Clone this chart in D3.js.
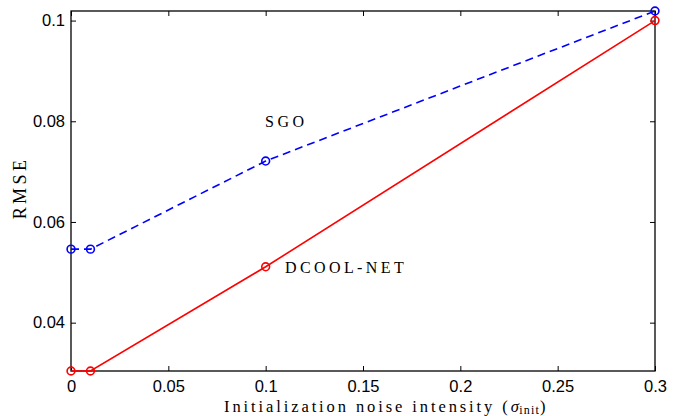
<!DOCTYPE html>
<html><head><meta charset="utf-8">
<script src="https://cdn.jsdelivr.net/npm/d3@7/dist/d3.min.js"></script>
<style>body{margin:0;background:#fff}svg{display:block}</style>
</head><body>
<script>
const xValues = [0, 0.01, 0.1, 0.3];
const dcoolNet = [0.0304, 0.0304, 0.0511, 0.1];
const sgo = [0.0546, 0.0546, 0.0721, 0.1019];
const xTicks = [0, 0.05, 0.1, 0.15, 0.2, 0.25, 0.3];
const yTicks = [0.04, 0.06, 0.08, 0.1];

const W = 685, H = 416;
const L = 71, R = 655, T = 11, B = 371;
const svg = d3.select("body").append("svg").attr("width", W).attr("height", H);
const x = d3.scaleLinear().domain([0, 0.3]).range([L, R]);
const y = d3.scaleLinear().domain([0.0304, 0.1019]).range([B, T]);

const tickFont = "'Liberation Sans', Arial, sans-serif";
const serif = "'Liberation Serif', 'DejaVu Serif', serif";

const fmt = d => d3.format("")(+d.toFixed(2));
const gxB = svg.append("g").attr("transform", `translate(0,${B})`)
  .call(d3.axisBottom(x).tickValues(xTicks).tickSize(-5).tickPadding(9).tickFormat(fmt));
const gxT = svg.append("g").attr("transform", `translate(0,${T})`)
  .call(d3.axisTop(x).tickValues(xTicks).tickSize(-5).tickFormat(""));
const gyL = svg.append("g").attr("transform", `translate(${L},0)`)
  .call(d3.axisLeft(y).tickValues(yTicks).tickSize(-5).tickPadding(6).tickFormat(fmt));
const gyR = svg.append("g").attr("transform", `translate(${R},0)`)
  .call(d3.axisRight(y).tickValues(yTicks).tickSize(-5).tickFormat(""));
[gxB, gxT, gyL, gyR].forEach(g => {
  g.select(".domain").remove();
  g.selectAll(".tick line").attr("stroke", "#000").attr("stroke-width", 1);
  g.selectAll("text").attr("font-family", tickFont).attr("font-size", 16.5).attr("fill", "#000");
});
svg.append("rect").attr("x", L).attr("y", T).attr("width", R - L).attr("height", B - T)
  .attr("fill", "none").attr("stroke", "#000").attr("stroke-width", 1.3);

const line = d3.line().x(d => x(d[0])).y(d => y(d[1]));
const series = [
  {vals: dcoolNet, color: "#ff0000", dash: null},
  {vals: sgo, color: "#0000ff", dash: "8,5"}
];
series.forEach(s => {
  const pts = xValues.map((v, i) => [v, s.vals[i]]);
  svg.append("path").datum(pts).attr("d", line).attr("fill", "none")
    .attr("stroke", s.color).attr("stroke-width", 1.6)
    .attr("stroke-dasharray", s.dash);
  svg.selectAll(null).data(pts).enter().append("circle")
    .attr("cx", d => x(d[0])).attr("cy", d => y(d[1])).attr("r", 3.9)
    .attr("fill", "none").attr("stroke", s.color).attr("stroke-width", 1.6);
});

svg.append("text").attr("x", 265).attr("y", 127).text("SGO")
  .attr("font-family", serif).attr("font-size", 16).attr("letter-spacing", 3.5);
svg.append("text").attr("x", 285).attr("y", 273).text("DCOOL-NET")
  .attr("font-family", serif).attr("font-size", 16).attr("letter-spacing", 3.4);

const xl = svg.append("text").attr("x", 224).attr("y", 412)
  .attr("font-family", serif).attr("font-size", 16.5).attr("letter-spacing", 2.9);
xl.append("tspan").text("Initialization noise intensity (");
xl.append("tspan").attr("font-style", "italic").attr("letter-spacing", 0.5).text("σ");
xl.append("tspan").attr("font-size", 12).attr("dy", 2).attr("letter-spacing", 1.2).text("init");
xl.append("tspan").attr("dy", -2).text(")");

svg.append("text").attr("transform", `translate(26,${188}) rotate(-90)`)
  .attr("text-anchor", "middle").text("RMSE")
  .attr("font-family", serif).attr("font-size", 18).attr("letter-spacing", 3.4);
</script>
</body></html>
